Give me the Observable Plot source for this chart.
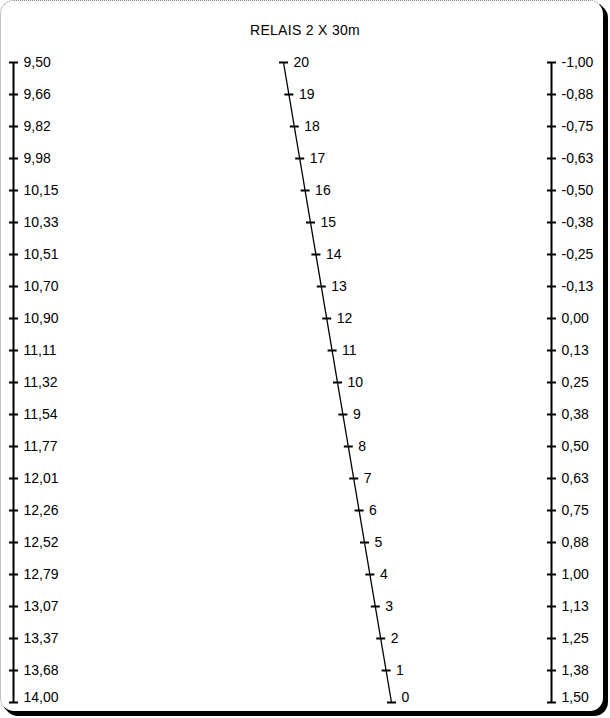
<!DOCTYPE html>
<html>
<head>
<meta charset="utf-8">
<script src="https://cdn.jsdelivr.net/npm/d3@7"></script>
<script src="https://cdn.jsdelivr.net/npm/@observablehq/plot@0.6"></script>
<style>
  html, body { margin: 0; padding: 0; background: #fff; }
  #wrap { position: relative; width: 610px; height: 718px; overflow: hidden; }
  #frame { position: absolute; left: 0; top: 0; width: 604px; height: 712px; box-sizing: border-box;
           border: 1px dotted #888; border-right: 1px solid #000; border-bottom: 1px solid #000;
           border-radius: 14px; box-shadow: 4px 4px 0 #000; background: #fff; }
  #title { position: absolute; left: 0; top: 20px; width: 610px; text-align: center;
           font: 14px "Liberation Sans", Arial, sans-serif; letter-spacing: 0.3px; line-height: 20px; color: #000; }
  #chart { position: absolute; left: 0; top: 48px; }
  #chart svg { display: block; }
</style>
</head>
<body>
<div id="wrap">
  <div id="frame"></div>
  <div id="title">RELAIS 2 X 30m</div>
  <div id="chart"></div>
</div>
<script>
// Tick labels, top to bottom
const leftLabels = ["9,50","9,66","9,82","9,98","10,15","10,33","10,51","10,70","10,90","11,11","11,32",
                    "11,54","11,77","12,01","12,26","12,52","12,79","13,07","13,37","13,68","14,00"];
const middleLabels = ["20","19","18","17","16","15","14","13","12","11","10",
                      "9","8","7","6","5","4","3","2","1","0"];
const rightLabels = ["-1,00","-0,88","-0,75","-0,63","-0,50","-0,38","-0,25","-0,13","0,00","0,13","0,25",
                     "0,38","0,50","0,63","0,75","0,88","1,00","1,13","1,25","1,38","1,50"];

// Layout of the three scales (horizontal positions)
const leftX = 13, rightX = 551, midTopX = 283, midBottomX = 391;
const n = leftLabels.length - 1;
const midX = i => midTopX + (midBottomX - midTopX) * i / n;

const rows = [];
leftLabels.forEach((t, i) => rows.push({scale: "left", i, label: t, x: leftX}));
middleLabels.forEach((t, i) => rows.push({scale: "mid", i, label: t, x: midX(i)}));
rightLabels.forEach((t, i) => rows.push({scale: "right", i, label: t, x: rightX}));

const lines = [
  {scale: "left", x1: leftX, x2: leftX},
  {scale: "mid", x1: midTopX, x2: midBottomX},
  {scale: "right", x1: rightX, x2: rightX}
];

const font = "Liberation Sans, Arial, sans-serif";
const chart = Plot.plot({
  width: 610,
  height: 670,
  margin: 0,
  style: {background: "transparent", fontFamily: font},
  x: {type: "linear", domain: [0, 610], range: [0, 610], axis: null},
  y: {type: "linear", domain: [0, n], range: [14, 654], axis: null},
  marks: [
    Plot.link(lines, {x1: "x1", x2: "x2", y1: 0, y2: n, stroke: "#000",
      strokeWidth: d => d.scale === "mid" ? 1.3 : 2}),
    Plot.link(rows, {x1: d => d.x - 4.5, x2: d => d.x + 4.5, y1: "i", y2: "i", stroke: "#000", strokeWidth: 2}),
    Plot.text(rows.filter(d => d.i < n), {x: "x", y: "i", text: "label", dx: 10, textAnchor: "start",
      fontSize: 14, fill: "#000", fontFamily: font}),
    Plot.text(rows.filter(d => d.i === n), {x: "x", y: "i", text: "label", dx: 10, dy: -5, textAnchor: "start",
      fontSize: 14, fill: "#000", fontFamily: font})
  ]
});
document.getElementById("chart").appendChild(chart);
</script>
</body>
</html>
